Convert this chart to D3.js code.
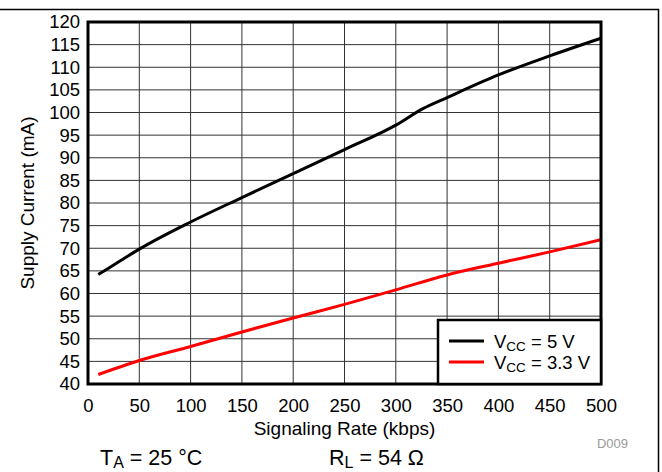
<!DOCTYPE html>
<html>
<head>
<meta charset="utf-8">
<script src="https://cdn.jsdelivr.net/npm/d3@7"></script>
<style>
  body { margin: 0; background: #fff; }
  svg { display: block; font-family: "Liberation Sans", Arial, sans-serif; }
</style>
</head>
<body>
<div id="chart"></div>
<script>
// Signaling rate (kbps) and supply current (mA)
const rate5 = [10, 30, 50, 100, 150, 200, 250, 300, 326, 350, 400, 450, 500];
const current5 = [64.2, 67.0, 69.8, 75.8, 81.2, 86.5, 91.8, 97.2, 100.8, 103.3, 108.3, 112.5, 116.4];

const rate33 = [10, 50, 100, 150, 200, 250, 300, 350, 400, 450, 500];
const current33 = [42.1, 45.2, 48.3, 51.5, 54.6, 57.6, 60.8, 64.1, 66.7, 69.2, 71.9];

const xTicks = [0, 50, 100, 150, 200, 250, 300, 350, 400, 450, 500];
const yTicks = [40, 45, 50, 55, 60, 65, 70, 75, 80, 85, 90, 95, 100, 105, 110, 115, 120];

const width = 662, height = 472;
const margin = { top: 22, right: 61, bottom: 88, left: 88 };

const svg = d3.select("#chart")
  .append("svg")
  .attr("width", width)
  .attr("height", height);

// frame lines of the figure box
svg.append("line")
  .attr("x1", 0).attr("x2", 659).attr("y1", 9.5).attr("y2", 9.5)
  .attr("stroke", "#000").attr("stroke-width", 1.5);
svg.append("line")
  .attr("x1", 658.5).attr("x2", 658.5).attr("y1", 9).attr("y2", height)
  .attr("stroke", "#000").attr("stroke-width", 1.5);

const x = d3.scaleLinear()
  .domain([0, 500])
  .range([margin.left, width - margin.right]);

const y = d3.scaleLinear()
  .domain([40, 120])
  .range([height - margin.bottom, margin.top]);

// grid
svg.append("g")
  .selectAll("line")
  .data(xTicks)
  .join("line")
  .attr("x1", d => x(d)).attr("x2", d => x(d))
  .attr("y1", y(40)).attr("y2", y(120))
  .attr("stroke", "#333").attr("stroke-width", 1);

svg.append("g")
  .selectAll("line")
  .data(yTicks)
  .join("line")
  .attr("x1", x(0)).attr("x2", x(500))
  .attr("y1", d => y(d)).attr("y2", d => y(d))
  .attr("stroke", "#333").attr("stroke-width", 1);

// axes (labels only)
const xAxis = svg.append("g")
  .attr("transform", `translate(0, ${y(40)})`)
  .call(d3.axisBottom(x).tickValues(xTicks).tickSize(0).tickPadding(15));
const yAxis = svg.append("g")
  .attr("transform", `translate(${x(0)}, 0)`)
  .call(d3.axisLeft(y).tickValues(yTicks).tickSize(0).tickPadding(8));

[xAxis, yAxis].forEach(g => {
  g.select(".domain").remove();
  g.selectAll("text")
    .attr("font-family", "'Liberation Sans', Arial, sans-serif")
    .attr("font-size", 18.5)
    .attr("fill", "#000");
});

// curves
const line = d3.line()
  .x(d => x(d[0]))
  .y(d => y(d[1]))
  .curve(d3.curveMonotoneX);

svg.append("path")
  .datum(d3.zip(rate5, current5))
  .attr("fill", "none")
  .attr("stroke", "#000")
  .attr("stroke-width", 3)
  .attr("d", line);

svg.append("path")
  .datum(d3.zip(rate33, current33))
  .attr("fill", "none")
  .attr("stroke", "#ff0000")
  .attr("stroke-width", 3)
  .attr("d", line);

// plot frame
svg.append("rect")
  .attr("x", x(0)).attr("y", y(120))
  .attr("width", x(500) - x(0)).attr("height", y(40) - y(120))
  .attr("fill", "none").attr("stroke", "#000").attr("stroke-width", 3);

// legend
const lg = svg.append("g");
lg.append("rect")
  .attr("x", 438).attr("y", 320)
  .attr("width", x(500) - 438).attr("height", y(40) - 320)
  .attr("fill", "#fff").attr("stroke", "#000").attr("stroke-width", 2.5);

const legendItems = [
  { color: "#000", label: "5 V" },
  { color: "#ff0000", label: "3.3 V" }
];
legendItems.forEach((d, i) => {
  const ly = 341 + i * 21;
  lg.append("line")
    .attr("x1", 449).attr("x2", 484).attr("y1", ly).attr("y2", ly)
    .attr("stroke", d.color).attr("stroke-width", 3);
  const t = lg.append("text")
    .attr("x", 494).attr("y", ly + 6.5)
    .attr("font-size", 18.5);
  t.append("tspan").text("V");
  t.append("tspan").attr("font-size", 13.5).attr("dy", 3).text("CC");
  t.append("tspan").attr("dy", -3).text(" = " + d.label);
});

// titles
svg.append("text")
  .attr("x", (x(0) + x(500)) / 2).attr("y", 435)
  .attr("text-anchor", "middle").attr("font-size", 19)
  .text("Signaling Rate (kbps)");

svg.append("text")
  .attr("transform", `translate(34, ${(y(40) + y(120)) / 2}) rotate(-90)`)
  .attr("text-anchor", "middle").attr("font-size", 19)
  .text("Supply Current (mA)");

svg.append("text")
  .attr("x", 628).attr("y", 448)
  .attr("text-anchor", "end").attr("font-size", 13)
  .attr("fill", "#9a9a9a")
  .text("D009");

// conditions
const ta = svg.append("text").attr("x", 100).attr("y", 465).attr("font-size", 21.5);
ta.append("tspan").text("T");
ta.append("tspan").attr("font-size", 16).attr("dy", 3).text("A");
ta.append("tspan").attr("dy", -3).text(" = 25 °C");

const rl = svg.append("text").attr("x", 329).attr("y", 465).attr("font-size", 21.5);
rl.append("tspan").text("R");
rl.append("tspan").attr("font-size", 16).attr("dy", 3).text("L");
rl.append("tspan").attr("dy", -3).text(" = 54 Ω");
</script>
</body>
</html>
